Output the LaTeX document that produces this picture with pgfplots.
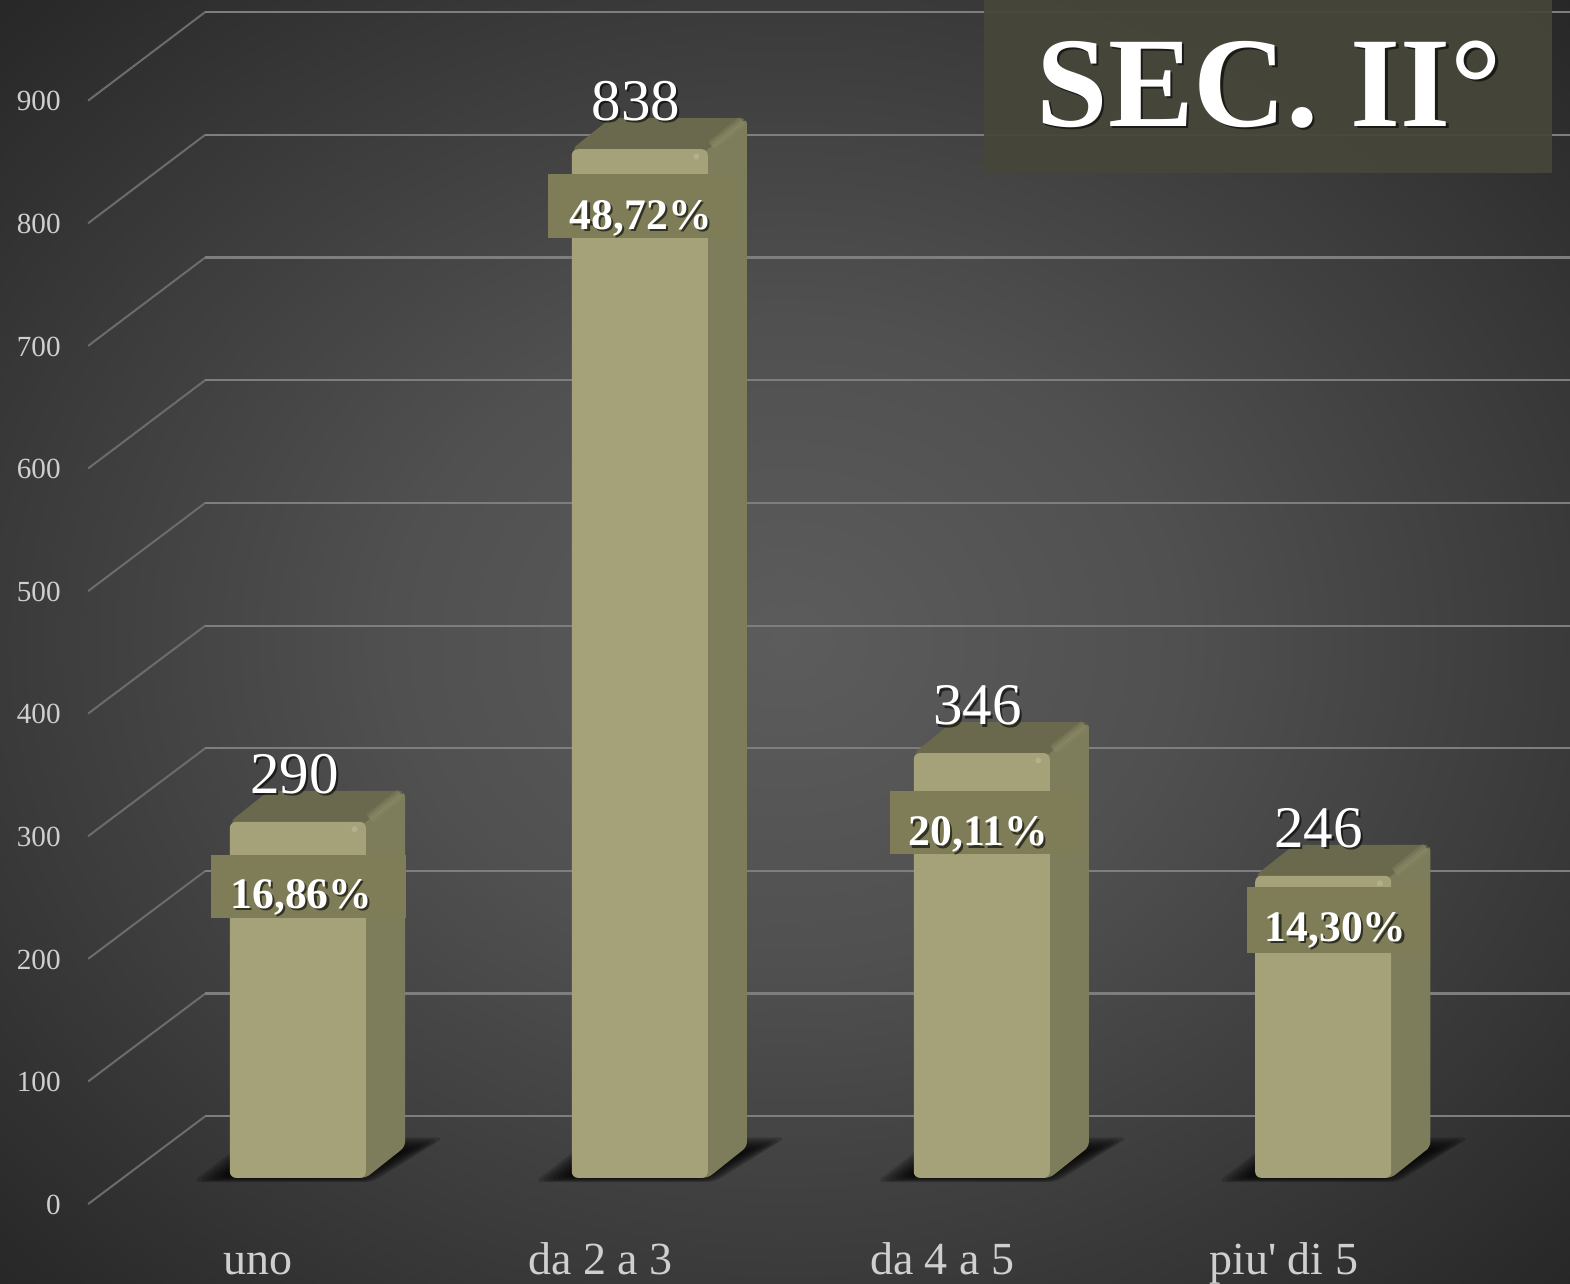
\documentclass[border=0pt]{standalone}
\usepackage{fontspec}
\setmainfont{Liberation Serif}
\newfontfamily\plainserif{Liberation Serif}
\usepackage{pgfplots}
\usepackage{pgfplotstable}
\pgfplotsset{compat=1.18}
\definecolor{barfront}{HTML}{A5A27A}
\definecolor{bartop}{HTML}{6A694D}
\definecolor{barside}{HTML}{7D7C5B}
\definecolor{barhi}{HTML}{8F8E6A}
\definecolor{pctbox}{HTML}{7F7D58}
\definecolor{titlebox}{HTML}{47463A}
\definecolor{gridc}{HTML}{7E7E7E}
\definecolor{diagc}{HTML}{6C6C6C}
\definecolor{ticktxt}{HTML}{CFCFCF}
\definecolor{bgA}{HTML}{5C5C5C}
\definecolor{bgB}{HTML}{505050}
\definecolor{bgC}{HTML}{3A3A3A}
\definecolor{bgD}{HTML}{272727}
\pgfdeclareradialshading{chartbg}{\pgfpointorigin}{color(0bp)=(bgA); color(12.5bp)=(bgB); color(25bp)=(bgC); color(35.4bp)=(bgD); color(50bp)=(bgD)}
\pgfplotstableread{
x y
192 -3.5
372 -3.5
444 33
250 33
}\shadowA
\pgfplotstableread{
x y
197 -2.9
370 -2.9
439 31.5
251 31.5
}\shadowB
\pgfplotstableread{
x y
202 -2.3
368 -2.3
434 30
253 30
}\shadowC
\pgfplotstableread{
x y
207 -1.6
366 -1.6
429 28.5
254 28.5
}\shadowD
\pgfplotstableread{
x y
212 -0.9
364 -0.9
424 27
256 27
}\shadowE
\pgfplotstableread{
x y
216 -0.2
362 -0.2
418 25.5
257 25.5
}\shadowF
\pgfplotstableread{
x y
220 0.4
360 0.4
412 24
258 24
}\shadowG
\pgfplotstableread{
x y
225 1
355 1
405 22
260 22
}\shadowH
\newcommand{\lab}[4]{%
 \node[anchor=base,inner sep=0pt,text=black,opacity=.6,xshift=1.1pt,yshift=-1.1pt] at (axis cs:#1,#2) {#3#4};
 \node[anchor=base,inner sep=0pt,text=white] at (axis cs:#1,#2) {#3#4};}
\newcommand{\numfont}{\fontsize{29.5}{30}\selectfont}
\newcommand{\pctfont}{\fontsize{21.8}{22}\selectfont\bfseries}
\begin{document}
\begin{tikzpicture}
\begin{axis}[
  name=ax,
  scale only axis, width=785pt, height=641.5pt,
  xmin=0, xmax=1568, ymin=-85.7, ymax=959.6,
  axis line style={draw=none},
  major tick length=0pt,
  axis background/.style={shading=chartbg},
  xtick={258,600,941,1282},
  xticklabels={uno,da 2 a 3,da 4 a 5,{piu{\plainserif '} di 5}},
  xticklabel style={anchor=base,yshift=4.5pt,inner sep=0pt,text=ticktxt,font=\fontsize{23}{24}\selectfont},
  ytick={-21.4,78.5,178.4,278.3,378.2,478,577.9,677.8,777.7,877.6},
  yticklabels={0,100,200,300,400,500,600,700,800,900},
  yticklabel style={anchor=east,xshift=30.5pt,yshift=-0.4pt,inner sep=0pt,text=ticktxt,font=\fontsize{14.6}{15}\selectfont},
]
% wall and floor grid
\addplot[diagc,line width=1pt] coordinates {(88,-21.4)(205,50.2)};
\addplot[diagc,line width=1pt] coordinates {(88,78.5)(205,150.1)};
\addplot[diagc,line width=1pt] coordinates {(88,178.4)(205,250)};
\addplot[diagc,line width=1pt] coordinates {(88,278.3)(205,350)};
\addplot[diagc,line width=1pt] coordinates {(88,378.2)(205,449.9)};
\addplot[diagc,line width=1pt] coordinates {(88,478)(205,549.9)};
\addplot[diagc,line width=1pt] coordinates {(88,577.9)(205,649.9)};
\addplot[diagc,line width=1pt] coordinates {(88,677.8)(205,749.8)};
\addplot[diagc,line width=1pt] coordinates {(88,777.7)(205,849.8)};
\addplot[diagc,line width=1pt] coordinates {(88,877.6)(205,949.8)};
\addplot[gridc,line width=1.1pt] coordinates {(205,50.2)(1568,50.2)};
\addplot[gridc,line width=1.1pt] coordinates {(205,150.1)(1568,150.1)};
\addplot[gridc,line width=1.1pt] coordinates {(205,250)(1568,250)};
\addplot[gridc,line width=1.1pt] coordinates {(205,350)(1568,350)};
\addplot[gridc,line width=1.1pt] coordinates {(205,449.9)(1568,449.9)};
\addplot[gridc,line width=1.1pt] coordinates {(205,549.9)(1568,549.9)};
\addplot[gridc,line width=1.1pt] coordinates {(205,649.9)(1568,649.9)};
\addplot[gridc,line width=1.1pt] coordinates {(205,749.8)(1568,749.8)};
\addplot[gridc,line width=1.1pt] coordinates {(205,849.8)(1568,849.8)};
\addplot[gridc,line width=1.1pt] coordinates {(205,949.8)(1568,949.8)};
% shadows
\pgfplotsinvokeforeach{0,341.5,683,1024}{
 \addplot[fill=black,draw=none,opacity=.18,rounded corners=4pt] table[x expr=\thisrow{x}+#1,y=y] {\shadowA} -- cycle;
 \addplot[fill=black,draw=none,opacity=.18,rounded corners=4pt] table[x expr=\thisrow{x}+#1,y=y] {\shadowB} -- cycle;
 \addplot[fill=black,draw=none,opacity=.18,rounded corners=4pt] table[x expr=\thisrow{x}+#1,y=y] {\shadowC} -- cycle;
 \addplot[fill=black,draw=none,opacity=.18,rounded corners=4pt] table[x expr=\thisrow{x}+#1,y=y] {\shadowD} -- cycle;
 \addplot[fill=black,draw=none,opacity=.18,rounded corners=4pt] table[x expr=\thisrow{x}+#1,y=y] {\shadowE} -- cycle;
 \addplot[fill=black,draw=none,opacity=.18,rounded corners=4pt] table[x expr=\thisrow{x}+#1,y=y] {\shadowF} -- cycle;
 \addplot[fill=black,draw=none,opacity=.18,rounded corners=4pt] table[x expr=\thisrow{x}+#1,y=y] {\shadowG} -- cycle;
 \addplot[fill=black,draw=none,opacity=.18,rounded corners=4pt] table[x expr=\thisrow{x}+#1,y=y] {\shadowH} -- cycle;
}
% top faces (the lower part is hidden behind the front face)
\addplot[fill=bartop,draw=none,rounded corners=3pt] coordinates {(229.5,290)(268.5,315.3)(404.5,315.3)(366,290)(355,280)(240,280)} -- cycle;
\addplot[fill=bartop,draw=none,rounded corners=3pt] coordinates {(571,838)(610,863.3)(746,863.3)(707.5,838)(696,828)(581,828)} -- cycle;
\addplot[fill=bartop,draw=none,rounded corners=3pt] coordinates {(912.5,346)(951.5,371.3)(1087.5,371.3)(1049,346)(1038,336)(923,336)} -- cycle;
\addplot[fill=bartop,draw=none,rounded corners=3pt] coordinates {(1253.5,246)(1292.5,271.3)(1428.5,271.3)(1390,246)(1379,236)(1264,236)} -- cycle;
% side faces (extended behind the front face)
\addplot[fill=barside,draw=none,rounded corners=2.5pt] coordinates {(355,283.2)(404.5,315.3)(404.5,25.3)(365.5,0)(355,0)} -- cycle;
\addplot[fill=barside,draw=none,rounded corners=2.5pt] coordinates {(696.5,831.2)(746,863.3)(746,25.3)(707,0)(696.5,0)} -- cycle;
\addplot[fill=barside,draw=none,rounded corners=2.5pt] coordinates {(1038,339.2)(1087.5,371.3)(1087.5,25.3)(1048.5,0)(1038,0)} -- cycle;
\addplot[fill=barside,draw=none,rounded corners=2.5pt] coordinates {(1379,239.2)(1428.5,271.3)(1428.5,25.3)(1389.5,0)(1379,0)} -- cycle;
% soft highlighted edge between top and side
\addplot[barhi,line width=5pt,opacity=.3] coordinates {(369,293)(400,313)};
\addplot[barhi,line width=5pt,opacity=.3] coordinates {(710.5,841)(741.5,861)};
\addplot[barhi,line width=5pt,opacity=.3] coordinates {(1052,349)(1083,369)};
\addplot[barhi,line width=5pt,opacity=.3] coordinates {(1393,249)(1424,269)};
\addplot[barhi,line width=2.4pt,opacity=.4] coordinates {(369,293)(400,313)};
\addplot[barhi,line width=2.4pt,opacity=.4] coordinates {(710.5,841)(741.5,861)};
\addplot[barhi,line width=2.4pt,opacity=.4] coordinates {(1052,349)(1083,369)};
\addplot[barhi,line width=2.4pt,opacity=.4] coordinates {(1393,249)(1424,269)};
% front faces
\addplot[ybar,bar width=68pt,bar shift=0pt,fill=barfront,draw=none,rounded corners=3pt]
  coordinates {(297.5,290)(639,838)(980.5,346)(1321.5,246)};
% small glints
\addplot[only marks,mark=*,mark size=1.3pt,mark options={draw=barfront!85!white,fill=barfront!85!white}]
  coordinates {(354,284)(695.5,832)(1037,340)(1378,240)};
% percentage boxes
\addplot[fill=pctbox,draw=none] coordinates {(211,262.8)(405,262.8)(405,211.3)(211,211.3)} -- cycle;
\addplot[fill=pctbox,draw=none] coordinates {(547,817.6)(737,817.6)(737,765.4)(547,765.4)} -- cycle;
\addplot[fill=pctbox,draw=none] coordinates {(889,315)(1080,315)(1080,263.6)(889,263.6)} -- cycle;
\addplot[fill=pctbox,draw=none] coordinates {(1245,236.6)(1428,236.6)(1428,182.8)(1245,182.8)} -- cycle;
% title box
\addplot[fill=titlebox,draw=none,opacity=.93] coordinates {(982.5,959.6)(1550,959.6)(1550,818.4)(982.5,818.4)} -- cycle;
% labels
\lab{294}{313}{\numfont}{290}
\lab{635}{861.2}{\numfont}{838}
\lab{976}{369}{\numfont}{346}
\lab{1317}{269}{\numfont}{246}
\lab{301}{219.5}{\pctfont}{16,86\%}
\lab{640}{772.5}{\pctfont}{48,72\%}
\lab{977}{270.5}{\pctfont}{20,11\%}
\lab{1334}{192.5}{\pctfont}{14,30\%}
\lab{1268}{856.5}{\fontsize{64.3}{65}\selectfont\bfseries}{SEC. II°}
\end{axis}
\pgfresetboundingbox
\useasboundingbox (ax.south west) rectangle (ax.north east);
\end{tikzpicture}
\end{document}
